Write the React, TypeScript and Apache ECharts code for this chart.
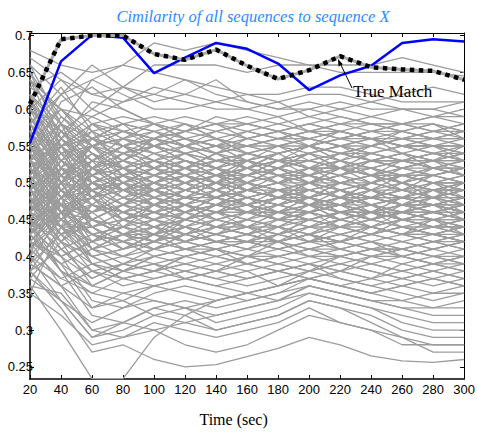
import React, { useEffect, useRef } from "react";
import * as echarts from "echarts";

const times = [20, 40, 60, 80, 100, 120, 140, 160, 180, 200, 220, 240, 260, 280, 300];
const yTicks = [0.25, 0.3, 0.35, 0.4, 0.45, 0.5, 0.55, 0.6, 0.65, 0.7];

const trueMatch = [0.607, 0.695, 0.7, 0.7, 0.675, 0.667, 0.681, 0.659, 0.641, 0.653, 0.672, 0.657, 0.654, 0.652, 0.64];
const bestOther = [0.554, 0.665, 0.701, 0.697, 0.649, 0.67, 0.69, 0.682, 0.662, 0.626, 0.646, 0.659, 0.69, 0.695, 0.692];

const upperLines = [
  [.68,.66,.65,.66,.69,.68,.69,.68,.67,.66,.66,.66,.67,.66,.65],
  [.67,.64,.62,.63,.66,.66,.66,.65,.66,.66,.65,.65,.65,.65,.645],
  [.66,.62,.64,.66,.65,.64,.63,.62,.62,.63,.63,.62,.61,.61,.61],
  [.63,.65,.62,.61,.62,.64,.62,.61,.60,.60,.61,.60,.60,.59,.60],
  [.62,.58,.64,.62,.60,.60,.61,.62,.61,.59,.60,.61,.62,.63,.62],
  [.60,.64,.60,.63,.61,.62,.64,.61,.60,.61,.60,.59,.60,.60,.59],
  [.58,.62,.66,.63,.62,.61,.60,.60,.59,.60,.59,.58,.58,.59,.58],
  [.64,.60,.59,.61,.63,.62,.61,.60,.61,.62,.62,.61,.60,.60,.61],
];
const highLines = [
  [.57,.55,.58,.59,.58,.57,.58,.59,.58,.57,.58,.58,.57,.58,.57],
  [.52,.56,.59,.57,.56,.58,.57,.56,.57,.58,.57,.56,.57,.56,.56],
  [.61,.57,.55,.56,.58,.59,.58,.57,.56,.57,.56,.57,.58,.57,.58],
  [.55,.60,.57,.55,.56,.55,.57,.58,.57,.56,.55,.56,.56,.57,.56],
  [.48,.53,.57,.58,.59,.58,.56,.57,.58,.59,.58,.57,.56,.55,.56],
  [.58,.54,.56,.58,.57,.56,.55,.56,.57,.58,.59,.58,.58,.59,.59],
  [.50,.58,.56,.57,.55,.57,.58,.56,.55,.56,.57,.58,.57,.56,.57],
  [.65,.59,.56,.55,.57,.58,.56,.55,.56,.56,.57,.56,.55,.56,.55],
  [.54,.51,.55,.57,.58,.56,.57,.58,.59,.57,.56,.55,.56,.57,.58],
  [.46,.55,.58,.56,.55,.56,.55,.57,.56,.55,.56,.57,.58,.58,.57],
  [.60,.56,.53,.55,.56,.57,.59,.58,.57,.58,.57,.56,.55,.55,.54],
  [.56,.62,.58,.57,.56,.55,.56,.55,.56,.57,.58,.59,.58,.57,.57],
];
const midHighLines = [
  [.53,.50,.52,.54,.53,.52,.53,.54,.53,.52,.53,.54,.53,.52,.53],
  [.49,.54,.55,.53,.52,.54,.55,.53,.52,.53,.54,.53,.52,.53,.54],
  [.57,.52,.50,.51,.53,.54,.52,.51,.52,.54,.55,.54,.53,.54,.53],
  [.45,.49,.53,.55,.54,.53,.52,.53,.54,.55,.54,.53,.54,.55,.55],
  [.51,.56,.53,.52,.51,.52,.54,.55,.54,.52,.51,.52,.53,.52,.51],
  [.62,.55,.52,.50,.51,.53,.52,.51,.50,.51,.52,.51,.50,.51,.52],
  [.50,.47,.51,.53,.55,.54,.53,.52,.53,.54,.53,.52,.51,.52,.53],
  [.55,.58,.54,.52,.53,.51,.50,.52,.53,.52,.51,.53,.54,.53,.52],
  [.47,.52,.55,.54,.52,.51,.52,.53,.51,.50,.52,.53,.52,.51,.50],
  [.52,.48,.50,.52,.51,.52,.51,.50,.52,.53,.52,.51,.52,.53,.52],
  [.59,.53,.51,.52,.54,.55,.56,.54,.53,.54,.55,.56,.55,.54,.55],
  [.44,.50,.54,.51,.50,.52,.53,.54,.55,.53,.52,.54,.55,.54,.53],
  [.53,.57,.52,.50,.52,.53,.51,.52,.54,.55,.53,.52,.51,.50,.51],
  [.48,.45,.49,.51,.52,.50,.51,.53,.52,.51,.50,.51,.52,.51,.52],
  [.56,.51,.53,.55,.53,.52,.54,.53,.52,.50,.51,.50,.51,.52,.51],
  [.51,.55,.56,.54,.55,.53,.52,.51,.53,.52,.54,.55,.54,.53,.54],
];
const midLines = [
  [.50,.47,.48,.49,.48,.47,.48,.49,.48,.47,.48,.49,.48,.47,.48],
  [.46,.50,.49,.47,.46,.48,.49,.48,.47,.48,.49,.48,.47,.48,.49],
  [.54,.49,.46,.47,.49,.48,.47,.46,.48,.49,.48,.47,.46,.47,.46],
  [.42,.46,.49,.50,.48,.47,.46,.47,.49,.50,.49,.48,.49,.50,.49],
  [.52,.55,.50,.48,.47,.46,.48,.47,.46,.47,.46,.45,.46,.47,.46],
  [.49,.44,.46,.48,.49,.50,.49,.48,.47,.48,.50,.49,.48,.49,.50],
  [.58,.51,.47,.46,.47,.48,.47,.46,.45,.46,.47,.48,.47,.46,.47],
  [.44,.48,.50,.49,.47,.46,.47,.49,.50,.49,.48,.47,.48,.49,.48],
  [.51,.46,.47,.46,.45,.46,.47,.48,.47,.46,.45,.46,.47,.48,.47],
  [.47,.52,.48,.46,.48,.49,.48,.47,.46,.45,.46,.47,.46,.45,.45],
  [.55,.50,.45,.47,.48,.47,.46,.45,.46,.48,.47,.46,.45,.46,.47],
  [.40,.45,.48,.49,.50,.49,.48,.50,.49,.48,.47,.49,.50,.49,.48],
  [.53,.48,.49,.50,.49,.48,.50,.49,.48,.47,.49,.50,.49,.48,.49],
  [.45,.42,.45,.47,.46,.45,.46,.47,.48,.47,.46,.45,.46,.47,.46],
  [.49,.53,.51,.49,.50,.48,.47,.48,.47,.46,.47,.48,.49,.48,.47],
  [.60,.52,.48,.45,.46,.47,.45,.46,.47,.48,.46,.45,.46,.45,.46],
  [.43,.47,.46,.48,.47,.49,.50,.49,.48,.49,.48,.50,.49,.50,.50],
  [.50,.45,.50,.48,.46,.45,.46,.48,.49,.47,.48,.47,.48,.47,.48],
];
const midLowLines = [
  [.48,.44,.42,.43,.44,.43,.42,.43,.44,.43,.42,.43,.44,.43,.42],
  [.52,.47,.43,.41,.42,.44,.43,.42,.41,.42,.43,.44,.43,.42,.43],
  [.44,.40,.42,.44,.43,.42,.44,.45,.44,.43,.44,.45,.44,.43,.44],
  [.50,.46,.44,.42,.41,.42,.43,.44,.43,.42,.41,.42,.43,.44,.43],
  [.41,.45,.43,.42,.44,.45,.44,.43,.42,.44,.45,.44,.43,.42,.41],
  [.55,.48,.42,.40,.41,.42,.41,.40,.41,.42,.43,.42,.41,.42,.41],
  [.46,.43,.45,.44,.43,.41,.42,.43,.42,.41,.40,.41,.42,.41,.42],
  [.52,.49,.45,.43,.42,.43,.45,.44,.43,.45,.44,.43,.44,.45,.44],
  [.39,.43,.44,.45,.44,.43,.42,.41,.43,.44,.43,.42,.41,.42,.43],
  [.49,.45,.41,.42,.43,.44,.43,.42,.44,.43,.42,.44,.45,.44,.45],
  [.57,.50,.44,.42,.40,.41,.42,.43,.42,.40,.41,.42,.40,.41,.40],
  [.45,.47,.43,.41,.42,.43,.44,.45,.44,.42,.43,.44,.45,.46,.45],
  [.42,.39,.41,.43,.42,.41,.40,.41,.42,.43,.42,.41,.40,.41,.42],
  [.53,.46,.43,.44,.45,.44,.43,.42,.41,.42,.44,.43,.42,.43,.44],
  [.47,.42,.40,.41,.43,.44,.42,.41,.40,.41,.42,.43,.44,.43,.42],
  [.43,.46,.45,.43,.41,.40,.41,.42,.43,.44,.45,.44,.43,.44,.43],
  [.51,.44,.41,.43,.44,.42,.41,.40,.42,.43,.41,.40,.41,.40,.41],
  [.38,.41,.43,.42,.41,.43,.44,.43,.42,.41,.42,.43,.42,.41,.42],
];
const lowLines = [
  [.45,.41,.38,.37,.38,.39,.38,.37,.38,.39,.38,.37,.38,.39,.38],
  [.50,.44,.39,.38,.37,.38,.39,.40,.39,.38,.39,.40,.39,.38,.39],
  [.40,.37,.39,.40,.39,.38,.37,.38,.39,.40,.39,.38,.37,.38,.37],
  [.48,.43,.38,.36,.37,.38,.37,.36,.37,.38,.39,.38,.37,.36,.37],
  [.42,.39,.36,.38,.40,.39,.40,.39,.38,.37,.38,.39,.40,.39,.40],
  [.53,.46,.40,.38,.39,.37,.38,.39,.40,.41,.40,.39,.38,.39,.38],
  [.44,.40,.37,.39,.38,.40,.39,.38,.36,.37,.38,.37,.39,.40,.39],
  [.47,.42,.39,.37,.36,.37,.38,.37,.38,.39,.37,.36,.37,.38,.37],
  [.39,.36,.38,.39,.40,.41,.40,.39,.40,.39,.38,.40,.41,.40,.39],
  [.56,.48,.41,.39,.38,.39,.38,.40,.39,.38,.40,.41,.40,.39,.40],
  [.43,.38,.35,.37,.38,.37,.36,.37,.38,.37,.36,.37,.36,.37,.36],
  [.46,.44,.40,.38,.39,.40,.41,.39,.38,.39,.40,.39,.38,.37,.38],
];
const bottomLines = [
  [.36,.30,.234,.234,.29,.32,.34,.35,.36,.37,.36,.35,.36,.35,.36],
  [.38,.33,.27,.28,.26,.25,.253,.264,.275,.29,.28,.265,.258,.256,.26],
  [.40,.34,.29,.30,.32,.33,.31,.32,.33,.35,.34,.33,.32,.31,.31],
  [.35,.32,.28,.29,.31,.30,.29,.30,.31,.33,.31,.30,.29,.28,.28],
  [.42,.36,.30,.31,.33,.32,.30,.31,.32,.34,.33,.32,.30,.29,.29],
  [.37,.34,.31,.33,.34,.33,.32,.33,.34,.35,.34,.33,.31,.30,.30],
  [.44,.38,.32,.31,.33,.34,.33,.34,.35,.36,.35,.34,.33,.32,.32],
  [.39,.36,.33,.35,.34,.33,.34,.35,.34,.36,.35,.34,.33,.33,.34],
  [.46,.40,.34,.33,.35,.36,.35,.34,.35,.37,.36,.35,.34,.35,.35],
  [.36,.35,.30,.29,.30,.31,.30,.31,.32,.34,.33,.31,.29,.27,.27],
  [.41,.37,.35,.34,.32,.31,.32,.33,.34,.36,.35,.34,.34,.33,.33],
  [.48,.42,.36,.35,.36,.35,.34,.35,.36,.38,.37,.36,.35,.34,.35],
  [.38,.34,.29,.31,.30,.28,.27,.28,.30,.32,.31,.30,.28,.28,.28],
  [.43,.39,.33,.34,.36,.37,.36,.35,.36,.37,.36,.35,.36,.37,.36],
];
const driftLines = [
  [.62,.50,.44,.46,.48,.50,.51,.52,.53,.54,.55,.55,.56,.56,.57],
  [.40,.52,.58,.55,.52,.50,.48,.47,.46,.45,.44,.44,.43,.43,.42],
  [.66,.58,.50,.47,.45,.44,.45,.46,.46,.47,.47,.48,.48,.49,.49],
  [.35,.44,.52,.54,.55,.56,.55,.54,.53,.53,.52,.52,.51,.51,.50],
  [.58,.63,.57,.52,.49,.47,.46,.46,.45,.45,.46,.46,.47,.47,.47],
  [.47,.56,.61,.60,.58,.57,.56,.54,.53,.52,.52,.51,.51,.50,.50],
  [.64,.55,.48,.44,.42,.41,.41,.40,.40,.41,.41,.40,.40,.39,.39],
  [.44,.49,.47,.45,.44,.46,.48,.50,.51,.52,.52,.53,.53,.54,.54],
  [.55,.47,.41,.40,.42,.45,.47,.48,.49,.50,.50,.49,.49,.48,.48],
  [.50,.57,.60,.58,.55,.53,.51,.50,.49,.49,.48,.48,.47,.47,.46],
  [.61,.54,.49,.50,.52,.53,.52,.50,.49,.48,.47,.46,.45,.45,.44],
  [.37,.42,.47,.50,.52,.51,.50,.49,.48,.48,.49,.50,.51,.51,.52],
  [.53,.61,.63,.60,.58,.56,.55,.55,.56,.57,.57,.56,.55,.54,.53],
  [.48,.41,.37,.39,.41,.43,.44,.44,.45,.46,.45,.44,.43,.43,.42],
  [.59,.51,.45,.43,.44,.45,.44,.43,.44,.46,.47,.48,.48,.47,.46],
  [.46,.52,.51,.53,.56,.57,.58,.58,.57,.56,.55,.54,.53,.52,.52],
  [.52,.45,.42,.44,.47,.49,.50,.50,.49,.48,.47,.47,.46,.46,.45],
  [.63,.60,.55,.52,.50,.48,.47,.47,.48,.49,.50,.50,.51,.51,.50],
  [.41,.48,.52,.51,.49,.47,.45,.44,.43,.42,.42,.43,.44,.44,.45],
  [.56,.49,.46,.48,.50,.51,.53,.54,.55,.55,.54,.53,.52,.52,.51],
  [.45,.38,.36,.38,.40,.41,.42,.42,.41,.40,.40,.41,.41,.42,.42],
  [.51,.59,.55,.51,.48,.46,.45,.44,.44,.45,.46,.46,.45,.45,.44],
  [.60,.57,.53,.49,.47,.46,.47,.49,.51,.52,.52,.51,.50,.49,.49],
  [.43,.50,.56,.58,.57,.55,.53,.52,.51,.51,.52,.53,.53,.52,.52],
  [.57,.52,.48,.46,.45,.47,.49,.51,.52,.53,.54,.54,.55,.55,.54],
  [.49,.43,.40,.41,.43,.46,.48,.49,.49,.50,.49,.48,.47,.46,.46],
  [.54,.58,.54,.50,.47,.45,.44,.43,.42,.43,.44,.45,.46,.47,.47],
  [.39,.46,.50,.52,.53,.51,.49,.47,.46,.46,.47,.48,.49,.49,.48],
  [.65,.56,.52,.53,.55,.54,.52,.50,.49,.49,.50,.51,.51,.50,.50],
  [.47,.44,.44,.46,.45,.43,.42,.42,.43,.45,.46,.47,.48,.48,.49],
  [.58,.53,.50,.48,.47,.48,.50,.52,.54,.55,.56,.56,.55,.55,.55],
  [.44,.47,.53,.56,.55,.53,.51,.49,.48,.47,.47,.46,.46,.45,.45],
  [.52,.48,.45,.43,.43,.44,.46,.47,.48,.48,.47,.46,.45,.44,.44],
  [.61,.56,.51,.49,.49,.50,.51,.51,.50,.50,.51,.52,.53,.53,.53],
  [.42,.40,.42,.45,.47,.48,.47,.46,.45,.44,.44,.45,.46,.46,.47],
  [.55,.50,.55,.57,.56,.54,.53,.53,.54,.55,.56,.57,.57,.56,.56],
  [.50,.54,.49,.45,.43,.42,.43,.44,.46,.47,.48,.48,.47,.47,.46],
  [.46,.51,.54,.52,.49,.48,.48,.49,.50,.51,.50,.49,.48,.48,.48],
  [.57,.46,.39,.37,.38,.40,.41,.42,.42,.43,.42,.41,.41,.40,.40],
  [.53,.55,.52,.49,.50,.52,.54,.55,.55,.54,.52,.51,.50,.49,.49],
];
const wanderLines = [
  [.55,.53,.50,.49,.51,.53,.52,.50,.48,.47,.48,.50,.51,.50,.49],
  [.47,.50,.53,.52,.50,.49,.51,.52,.51,.49,.48,.47,.48,.50,.51],
  [.60,.55,.51,.48,.47,.49,.50,.48,.47,.48,.50,.51,.50,.48,.47],
  [.43,.48,.51,.53,.51,.50,.52,.54,.53,.51,.50,.51,.53,.54,.53],
  [.52,.46,.44,.45,.47,.49,.48,.46,.45,.46,.48,.49,.47,.46,.45],
  [.58,.52,.47,.45,.46,.44,.43,.44,.46,.48,.49,.47,.45,.44,.45],
  [.50,.55,.57,.55,.53,.52,.50,.49,.50,.52,.53,.52,.50,.49,.50],
  [.45,.51,.49,.47,.49,.51,.50,.48,.46,.45,.44,.46,.48,.49,.47],
  [.54,.49,.51,.54,.56,.55,.53,.52,.54,.55,.53,.51,.50,.52,.53],
  [.62,.57,.54,.52,.50,.51,.49,.47,.48,.50,.51,.49,.48,.47,.48],
  [.48,.43,.46,.49,.51,.50,.48,.47,.45,.44,.46,.47,.45,.44,.44],
  [.41,.46,.50,.48,.46,.47,.49,.51,.52,.50,.49,.47,.46,.48,.49],
  [.57,.60,.56,.53,.52,.54,.55,.53,.51,.50,.51,.53,.54,.52,.51],
  [.49,.47,.43,.44,.46,.45,.47,.49,.50,.48,.46,.45,.47,.48,.46],
  [.53,.51,.55,.56,.54,.52,.51,.53,.55,.56,.55,.53,.52,.53,.55],
  [.46,.49,.46,.43,.42,.44,.46,.45,.44,.46,.47,.45,.44,.43,.44],
  [.59,.54,.52,.53,.51,.49,.48,.50,.52,.51,.49,.48,.50,.51,.52],
  [.44,.45,.48,.51,.53,.55,.54,.52,.50,.51,.53,.55,.56,.55,.53],
  [.51,.56,.52,.49,.48,.46,.44,.43,.45,.47,.46,.44,.43,.45,.46],
  [.56,.50,.48,.50,.49,.47,.46,.48,.49,.47,.45,.46,.48,.47,.45],
  [.64,.58,.55,.56,.57,.55,.54,.56,.57,.55,.54,.55,.57,.58,.56],
  [.38,.44,.47,.46,.44,.42,.43,.45,.47,.46,.44,.43,.45,.46,.45],
  [.52,.48,.52,.55,.53,.51,.49,.50,.52,.54,.52,.50,.49,.51,.52],
  [.47,.53,.55,.53,.55,.56,.54,.52,.53,.55,.57,.56,.54,.53,.54],
  [.55,.50,.45,.43,.45,.47,.46,.44,.42,.43,.45,.46,.44,.43,.43],
  [.49,.52,.49,.46,.44,.45,.47,.46,.47,.49,.48,.46,.47,.49,.50],
  [.61,.53,.49,.51,.53,.52,.50,.51,.53,.52,.50,.49,.51,.50,.48],
  [.42,.47,.45,.47,.50,.52,.51,.49,.48,.50,.52,.51,.49,.48,.50],
  [.57,.49,.44,.41,.43,.45,.44,.46,.48,.47,.45,.44,.46,.45,.43],
  [.50,.46,.48,.51,.49,.48,.50,.53,.52,.50,.48,.50,.52,.53,.51],
];

const greyGroups = [upperLines, highLines, midHighLines, midLines, midLowLines, lowLines, bottomLines, driftLines, wanderLines];

export default function App() {
  const ref = useRef<HTMLDivElement>(null);
  useEffect(() => {
    document.body.style.margin = "0";
    if (!ref.current) return;
    const chart = echarts.init(ref.current, null, { renderer: "svg" });
    const pair = (vals: number[]) => times.map((t, i) => [t, vals[i]]);
    const greySeries: any[] = [];
    greyGroups.forEach((g) =>
      g.forEach((vals) =>
        greySeries.push({
          type: "line",
          data: pair(vals),
          symbol: "none",
          silent: true,
          lineStyle: { color: "#9c9c9c", width: 1.3 },
          z: 2,
        })
      )
    );
    const sans = "Liberation Sans, Arial, Helvetica, sans-serif";
    const serif = "'Times New Roman', 'Liberation Serif', 'DejaVu Serif', serif";
    chart.setOption({
      animation: false,
      backgroundColor: "#fff",
      title: {
        text: "Cimilarity of all sequences to sequence X",
        left: 248,
        textAlign: "center",
        top: 3,
        textStyle: { fontFamily: serif, fontStyle: "italic", fontWeight: "normal", fontSize: 16.5, color: "#2b8cff" },
      },
      grid: { left: 30, right: 13, top: 33, bottom: 55 },
      xAxis: [
        {
          type: "value",
          min: 20,
          max: 300,
          interval: 20,
          name: "Time (sec)",
          nameLocation: "middle",
          nameGap: 32,
          nameTextStyle: { fontFamily: serif, fontSize: 16, color: "#000", padding: [0, 27, 0, 0] },
          axisLine: { onZero: false, lineStyle: { color: "#000", width: 1.5 } },
          axisTick: { inside: true, length: 4, lineStyle: { color: "#000" } },
          axisLabel: { fontFamily: sans, fontSize: 13, color: "#000", margin: 4, showMaxLabel: true },
          splitLine: { show: false },
        },
        {
          type: "value",
          position: "top",
          min: 20,
          max: 300,
          interval: 20,
          axisLine: { onZero: false, lineStyle: { color: "#000", width: 1 } },
          axisTick: { inside: true, length: 4, lineStyle: { color: "#000" } },
          axisLabel: { show: false },
          splitLine: { show: false },
        },
      ],
      yAxis: [
        {
          type: "value",
          min: 0.2335,
          max: 0.7035,
          axisLine: { onZero: false, lineStyle: { color: "#000", width: 1.5 } },
          axisTick: { inside: true, length: 4, customValues: yTicks, lineStyle: { color: "#000" } },
          axisLabel: {
            customValues: yTicks,
            fontFamily: sans,
            fontSize: 13,
            color: "#000",
            margin: -3,
            formatter: (v: number) => String(Math.round(v * 100) / 100),
          },
          splitLine: { show: false },
        },
        {
          type: "value",
          position: "right",
          min: 0.2335,
          max: 0.7035,
          axisLine: { onZero: false, lineStyle: { color: "#000", width: 1 } },
          axisTick: { inside: true, length: 4, customValues: yTicks, lineStyle: { color: "#000" } },
          axisLabel: { show: false },
          splitLine: { show: false },
        },
      ],
      series: [
        ...greySeries,
        {
          type: "line",
          data: pair(bestOther),
          symbol: "none",
          silent: true,
          lineStyle: { color: "#0000ff", width: 2.5 },
          z: 4,
        },
        {
          type: "line",
          data: pair(trueMatch),
          symbol: "none",
          silent: true,
          lineStyle: { color: "#a8a8a8", width: 3 },
          z: 5,
        },
        {
          type: "line",
          data: pair(trueMatch),
          symbol: "none",
          silent: true,
          lineStyle: { color: "#000", width: 4.5, type: [4.5, 4.5], cap: "butt" },
          z: 6,
        },
      ],
      graphic: [
        { type: "line", shape: { x1: 352, y1: 88, x2: 340, y2: 63 }, style: { stroke: "#000", lineWidth: 1 }, z: 20 },
        { type: "polygon", shape: { points: [[338, 59], [342.9, 64.3], [338.5, 66.5]] }, style: { fill: "#000" }, z: 20 },
        {
          type: "text",
          x: 353,
          y: 91,
          style: { text: "True Match", font: "17px " + serif, fill: "#000", verticalAlign: "middle", align: "left" },
          z: 20,
        },
      ],
    });
    return () => chart.dispose();
  }, []);
  return <div ref={ref} style={{ width: 478, height: 434 }} />;
}
